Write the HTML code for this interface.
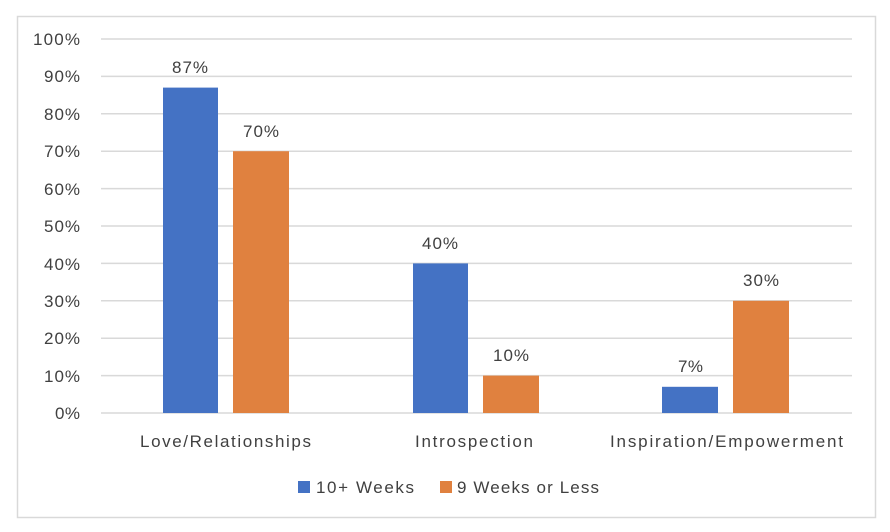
<!DOCTYPE html>
<html><head><style>body{margin:0;background:#fff}svg{display:block}</style></head>
<body>
<svg width="890" height="532" xmlns="http://www.w3.org/2000/svg" font-family="Liberation Sans, sans-serif" fill="#404040">
<rect x="17.5" y="16.5" width="858" height="501" fill="#fff" stroke="#d9d9d9" stroke-width="1.5"/>
<g stroke="#d9d9d9" stroke-width="1.5">
<line x1="101" x2="852" y1="39" y2="39"/><line x1="101" x2="852" y1="76.4" y2="76.4"/>
<line x1="101" x2="852" y1="113.8" y2="113.8"/><line x1="101" x2="852" y1="151.2" y2="151.2"/>
<line x1="101" x2="852" y1="188.6" y2="188.6"/><line x1="101" x2="852" y1="226" y2="226"/>
<line x1="101" x2="852" y1="263.4" y2="263.4"/><line x1="101" x2="852" y1="300.8" y2="300.8"/>
<line x1="101" x2="852" y1="338.2" y2="338.2"/><line x1="101" x2="852" y1="375.6" y2="375.6"/>
<line x1="101" x2="852" y1="413" y2="413"/>
</g>
<g font-size="17" text-anchor="end">
<text x="80" y="45" textLength="47">100%</text><text x="80" y="82" textLength="36">90%</text><text x="80" y="120" textLength="36">80%</text>
<text x="80" y="157" textLength="36">70%</text><text x="80" y="195" textLength="36">60%</text><text x="80" y="232" textLength="36">50%</text>
<text x="80" y="270" textLength="36">40%</text><text x="80" y="307" textLength="36">30%</text><text x="80" y="344" textLength="36">20%</text>
<text x="80" y="382" textLength="36">10%</text><text x="80" y="419" textLength="25">0%</text>
</g>
<rect x="163" y="87.6" width="55" height="325.4" fill="#4472c4"/>
<rect x="233" y="151.2" width="56" height="261.8" fill="#e0813f"/>
<rect x="413" y="263.4" width="55" height="149.6" fill="#4472c4"/>
<rect x="483" y="375.6" width="56" height="37.4" fill="#e0813f"/>
<rect x="662" y="386.8" width="56" height="26.2" fill="#4472c4"/>
<rect x="733" y="300.8" width="56" height="112.2" fill="#e0813f"/>
<g font-size="17">
<text x="172" y="73" textLength="36">87%</text><text x="243" y="137" textLength="36">70%</text>
<text x="422" y="249" textLength="36">40%</text><text x="493" y="361" textLength="36">10%</text>
<text x="678" y="372" textLength="25">7%</text><text x="743" y="286" textLength="36">30%</text>
<text x="140" y="447" textLength="171">Love/Relationships</text><text x="415" y="447" textLength="118">Introspection</text>
<text x="610" y="447" textLength="233">Inspiration/Empowerment</text>
</g>
<rect x="298" y="481" width="12" height="12" fill="#4472c4"/>
<text x="316" y="493" font-size="17" textLength="98">10+ Weeks</text>
<rect x="440" y="481" width="12" height="12" fill="#e0813f"/>
<text x="457" y="493" font-size="17" textLength="142">9 Weeks or Less</text>
</svg>
</body></html>
